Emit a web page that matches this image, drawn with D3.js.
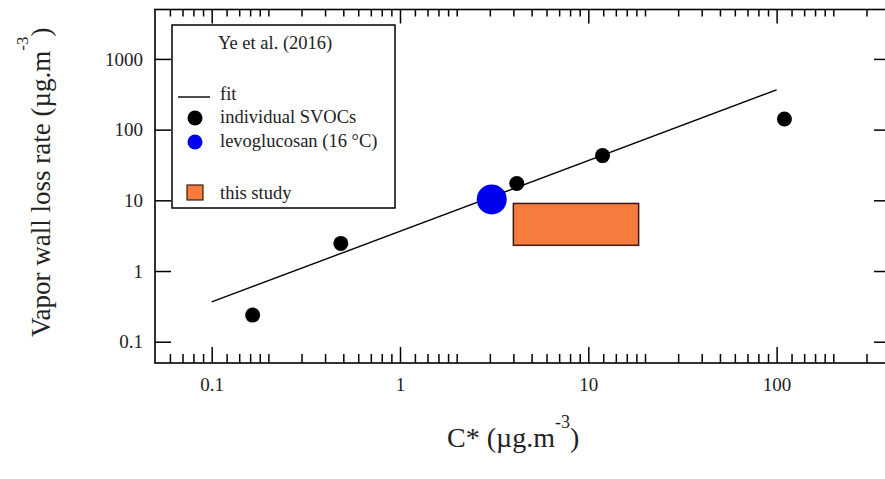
<!DOCTYPE html>
<html>
<head>
<meta charset="utf-8">
<script src="https://cdn.jsdelivr.net/npm/d3@7"></script>
<style>
  html, body { margin: 0; padding: 0; background: #fff; }
  svg { display: block; font-family: "Liberation Serif", "Times New Roman", serif; }
</style>
</head>
<body>
<svg id="chart" width="885" height="479"></svg>
<script>
// ---- data ----
const xMajorTicks = [0.1, 1, 10, 100];
const yMajorTicks = [0.1, 1, 10, 100, 1000];
const minorMultipliers = [1.2, 1.4, 1.6, 1.8, 2, 3, 4, 5, 6, 7, 8, 9];
const minorDecades = [0.01, 0.1, 1, 10, 100];

const svocC    = [0.165, 0.485, 4.17, 11.9, 110];
const svocRate = [0.238, 2.46, 17.3, 42.9, 141];
const levoC    = [3.07];
const levoRate = [10.3];
const fitC     = [0.1, 100];
const fitRate  = [0.365, 365];
const studyC    = [4.0, 18.5];
const studyRate = [2.31, 9.03];

const legendTitle = "Ye et al. (2016)";
const legendLabels = ["fit", "individual SVOCs", "levoglucosan (16 °C)", "this study"];

// ---- layout ----
const W = 885, H = 479;
const plot = { left: 155, right: 890, top: 9.5, bottom: 363 };
const svg = d3.select("#chart");

const x = d3.scaleLog().domain([0.05, 400]).range([plot.left, plot.right]);
const y = d3.scaleLog().domain([0.05, 5000]).range([plot.bottom, plot.top]);

const xMinor = [];
minorDecades.forEach(d => minorMultipliers.forEach(m => {
  const v = +(d * m).toPrecision(6);
  if (v > 0.05 && v < 400) xMinor.push(v);
}));

const fmt = d => (d < 1 ? d3.format(".1f")(d) : d3.format("d")(d));
const fontStack = '"Liberation Serif", "Times New Roman", serif';

function styleAxis(g) {
  g.select(".domain").remove();
  g.selectAll(".tick line").attr("stroke", "#000").attr("stroke-width", 1.5);
  g.selectAll(".tick text").attr("fill", "#222").attr("font-family", fontStack).attr("font-size", 19);
}

// bottom axis: major with labels
svg.append("g").attr("transform", `translate(0,${plot.bottom})`)
  .call(d3.axisBottom(x).tickValues(xMajorTicks).tickFormat(fmt).tickSize(-16).tickPadding(15))
  .call(styleAxis);
svg.append("g").attr("transform", `translate(0,${plot.bottom})`)
  .call(d3.axisBottom(x).tickValues(xMinor).tickFormat("").tickSize(-9))
  .call(styleAxis);
// top axis
svg.append("g").attr("transform", `translate(0,${plot.top})`)
  .call(d3.axisTop(x).tickValues(xMajorTicks).tickFormat("").tickSize(-14))
  .call(styleAxis);
svg.append("g").attr("transform", `translate(0,${plot.top})`)
  .call(d3.axisTop(x).tickValues(xMinor).tickFormat("").tickSize(-7))
  .call(styleAxis);
// left axis
svg.append("g").attr("transform", `translate(${plot.left},0)`)
  .call(d3.axisLeft(y).tickValues(yMajorTicks).tickFormat(fmt).tickSize(-16).tickPadding(12))
  .call(styleAxis);
// right axis
svg.append("g").attr("transform", `translate(${plot.right},0)`)
  .call(d3.axisRight(y).tickValues(yMajorTicks).tickFormat("").tickSize(-16))
  .call(styleAxis);

// frame
svg.append("rect")
  .attr("x", plot.left).attr("y", plot.top)
  .attr("width", plot.right - plot.left).attr("height", plot.bottom - plot.top)
  .attr("fill", "none").attr("stroke", "#000").attr("stroke-width", 1.6);

// this study rectangle
svg.append("rect")
  .attr("x", x(studyC[0])).attr("y", y(studyRate[1]))
  .attr("width", x(studyC[1]) - x(studyC[0]))
  .attr("height", y(studyRate[0]) - y(studyRate[1]))
  .attr("fill", "#f67c3e").attr("stroke", "#3a1a10").attr("stroke-width", 1.5);

// fit line
const fitData = fitC.map((c, i) => [c, fitRate[i]]);
svg.append("path")
  .datum(fitData)
  .attr("d", d3.line().x(d => x(d[0])).y(d => y(d[1])))
  .attr("fill", "none").attr("stroke", "#000").attr("stroke-width", 1.4);

// levoglucosan
svg.selectAll("circle.levo")
  .data(levoC.map((c, i) => [c, levoRate[i]]))
  .join("circle").attr("class", "levo")
  .attr("cx", d => x(d[0])).attr("cy", d => y(d[1])).attr("r", 15)
  .attr("fill", "#0000f0");

// individual SVOCs
svg.selectAll("circle.svoc")
  .data(svocC.map((c, i) => [c, svocRate[i]]))
  .join("circle").attr("class", "svoc")
  .attr("cx", d => x(d[0])).attr("cy", d => y(d[1])).attr("r", 7.5)
  .attr("fill", "#000");

// legend
const lg = svg.append("g");
lg.append("rect").attr("x", 172).attr("y", 25).attr("width", 223).attr("height", 183)
  .attr("fill", "#fff").attr("stroke", "#000").attr("stroke-width", 1.5);
lg.append("text").attr("x", 218).attr("y", 49).attr("font-size", 18.5).attr("fill", "#222")
  .text(legendTitle);
lg.append("line").attr("x1", 178).attr("x2", 210).attr("y1", 97).attr("y2", 97)
  .attr("stroke", "#000").attr("stroke-width", 1.4);
lg.append("circle").attr("cx", 195).attr("cy", 118).attr("r", 7.5).attr("fill", "#000");
lg.append("circle").attr("cx", 195).attr("cy", 142).attr("r", 7.5).attr("fill", "#0000f0");
lg.append("rect").attr("x", 187).attr("y", 185).attr("width", 16).attr("height", 15)
  .attr("fill", "#f67c3e").attr("stroke", "#3a1a10").attr("stroke-width", 1.2);
const legendY = [100, 123, 147, 199];
legendLabels.forEach((t, i) => {
  lg.append("text").attr("x", 220).attr("y", legendY[i]).attr("font-size", 18.5).attr("fill", "#222").text(t);
});

// y axis title
const yt = svg.append("text")
  .attr("transform", "translate(50,337) rotate(-90)")
  .attr("font-size", 27).attr("fill", "#222");
yt.append("tspan").text("Vapor wall loss rate (µg.m");
yt.append("tspan").attr("dy", -22).attr("font-size", 17).text("-3");
yt.append("tspan").attr("dy", 22).text(")");

// x axis title
const xt = svg.append("text")
  .attr("x", 447).attr("y", 447)
  .attr("font-size", 28).attr("fill", "#222");
xt.append("tspan").text("C* (µg.m");
xt.append("tspan").attr("dy", -19).attr("font-size", 18).text("-3");
xt.append("tspan").attr("dy", 19).text(")");
</script>
</body>
</html>
